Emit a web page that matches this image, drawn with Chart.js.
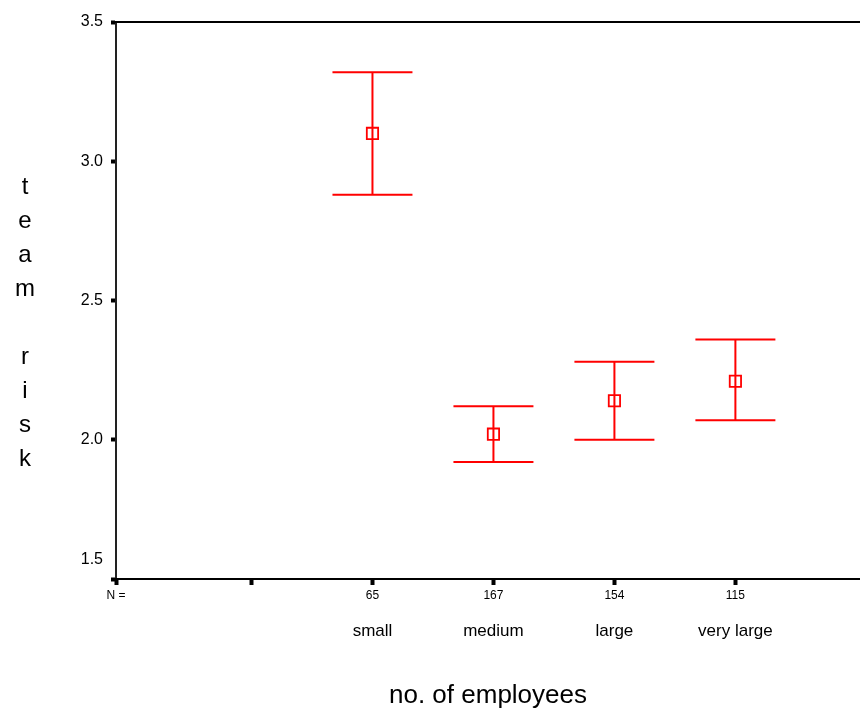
<!DOCTYPE html>
<html>
<head>
<meta charset="utf-8">
<script src="https://cdn.jsdelivr.net/npm/chart.js@4"></script>
<style>
  html, body { margin: 0; padding: 0; background: #fff; overflow: hidden; }
  #wrap { width: 860px; height: 711px; }
</style>
</head>
<body>
<div id="wrap"><canvas id="chart" width="860" height="711"></canvas></div>
<script>
// data
const categories = ['small', 'medium', 'large', 'very large'];
const counts = [65, 167, 154, 115];
const means = [3.10, 2.02, 2.14, 2.21];
const lower = [2.88, 1.92, 2.00, 2.07];
const upper = [3.32, 2.12, 2.28, 2.36];
const yTicks = [1.5, 2.0, 2.5, 3.0, 3.5];
const yTitle = ['t', 'e', 'a', 'm', '', 'r', 'i', 's', 'k'];

const FONT = "'Liberation Sans', Arial, sans-serif";
const RED = '#ff0000';
const X_MIN = -0.12;
const X_MAX = 6.03;

// categories sit on slots 2..5, slot 1 is an empty tick
const slot = i => i + 2;

// keep the plot box fixed: no label padding on the horizontal axes
const noPad = s => { s.paddingLeft = 0; s.paddingRight = 0; };

// error bars drawn through the chart's scales
const errorBars = {
    id: 'errorBars',
    beforeDatasetsDraw(chart) {
        const { ctx, scales: { x, y } } = chart;
        ctx.save();
        ctx.strokeStyle = RED;
        ctx.lineWidth = 2;
        categories.forEach((c, i) => {
            const px = x.getPixelForValue(slot(i));
            const yl = y.getPixelForValue(lower[i]);
            const yu = y.getPixelForValue(upper[i]);
            ctx.beginPath();
            ctx.moveTo(px, yl); ctx.lineTo(px, yu);
            ctx.moveTo(px - 40, yu); ctx.lineTo(px + 40, yu);
            ctx.moveTo(px - 40, yl); ctx.lineTo(px + 40, yl);
            ctx.stroke();
        });
        ctx.restore();
    }
};

// stacked letters of the y title
const stackedTitle = {
    id: 'stackedTitle',
    afterDraw(chart) {
        const { ctx } = chart;
        ctx.save();
        ctx.fillStyle = '#000';
        ctx.font = '24px ' + FONT;
        ctx.textAlign = 'center';
        ctx.textBaseline = 'middle';
        yTitle.forEach((ch, i) => ctx.fillText(ch, 25, 187 + i * 34));
        ctx.restore();
    }
};

new Chart(document.getElementById('chart'), {
    type: 'scatter',
    data: {
        datasets: [{
            data: means.map((m, i) => ({ x: slot(i), y: m })),
            pointStyle: 'rect',
            radius: 8,
            hoverRadius: 8,
            borderWidth: 1.8,
            borderColor: RED,
            backgroundColor: 'rgba(0,0,0,0)'
        }]
    },
    options: {
        responsive: false,
        animation: false,
        devicePixelRatio: 1,
        layout: { padding: 0, autoPadding: false },
        plugins: { legend: { display: false }, tooltip: { enabled: false } },
        scales: {
            y: {
                type: 'linear',
                position: 'left',
                min: 1.5,
                max: 3.5,
                afterBuildTicks: s => { s.ticks = yTicks.map(v => ({ value: v })); },
                afterFit: s => { s.width = 116; s.paddingTop = 0; s.paddingBottom = 0; },
                ticks: {
                    color: '#000',
                    font: { size: 16, family: FONT },
                    padding: 8,
                    // lift the bottom label clear of the N row
                    callback: v => v === 1.5 ? ['1.5', '', ''] : v.toFixed(1)
                },
                grid: { drawOnChartArea: false, tickLength: 5, tickWidth: 4, tickColor: '#000' },
                border: { color: '#222', width: 2 }
            },
            top: {
                type: 'linear',
                position: 'top',
                min: X_MIN,
                max: X_MAX,
                afterFit: s => { s.height = 22; noPad(s); },
                ticks: { display: false },
                grid: { display: false, drawTicks: false },
                border: { display: true, color: '#000', width: 2 }
            },
            x: {
                type: 'linear',
                position: 'bottom',
                min: X_MIN,
                max: X_MAX,
                afterBuildTicks: s => { s.ticks = [X_MIN, 1, 2, 3, 4, 5].map(v => ({ value: v })); },
                afterFit: s => { s.height = 30; noPad(s); },
                ticks: {
                    autoSkip: false,
                    maxRotation: 0,
                    color: '#000',
                    font: { size: 12, family: FONT },
                    padding: 3,
                    callback: v => {
                        if (v === X_MIN) return 'N =';
                        const i = v - 2;
                        return i >= 0 && i < counts.length ? String(counts[i]) : '';
                    }
                },
                grid: { drawOnChartArea: false, tickLength: 6, tickWidth: 4, tickColor: '#000' },
                border: { color: '#000', width: 2 }
            },
            names: {
                type: 'linear',
                position: 'bottom',
                min: X_MIN,
                max: X_MAX,
                afterBuildTicks: s => { s.ticks = categories.map((c, i) => ({ value: slot(i) })); },
                afterFit: s => { s.height = 102; noPad(s); },
                ticks: {
                    autoSkip: false,
                    maxRotation: 0,
                    color: '#000',
                    font: { size: 17, family: FONT },
                    padding: 12,
                    callback: v => categories[v - 2] || ''
                },
                grid: { display: false, drawTicks: false },
                border: { display: false },
                title: {
                    display: true,
                    text: 'no. of employees',
                    color: '#000',
                    font: { size: 26, family: FONT },
                    padding: { top: 0, bottom: 0 }
                }
            }
        }
    },
    plugins: [errorBars, stackedTitle]
});
</script>
</body>
</html>
